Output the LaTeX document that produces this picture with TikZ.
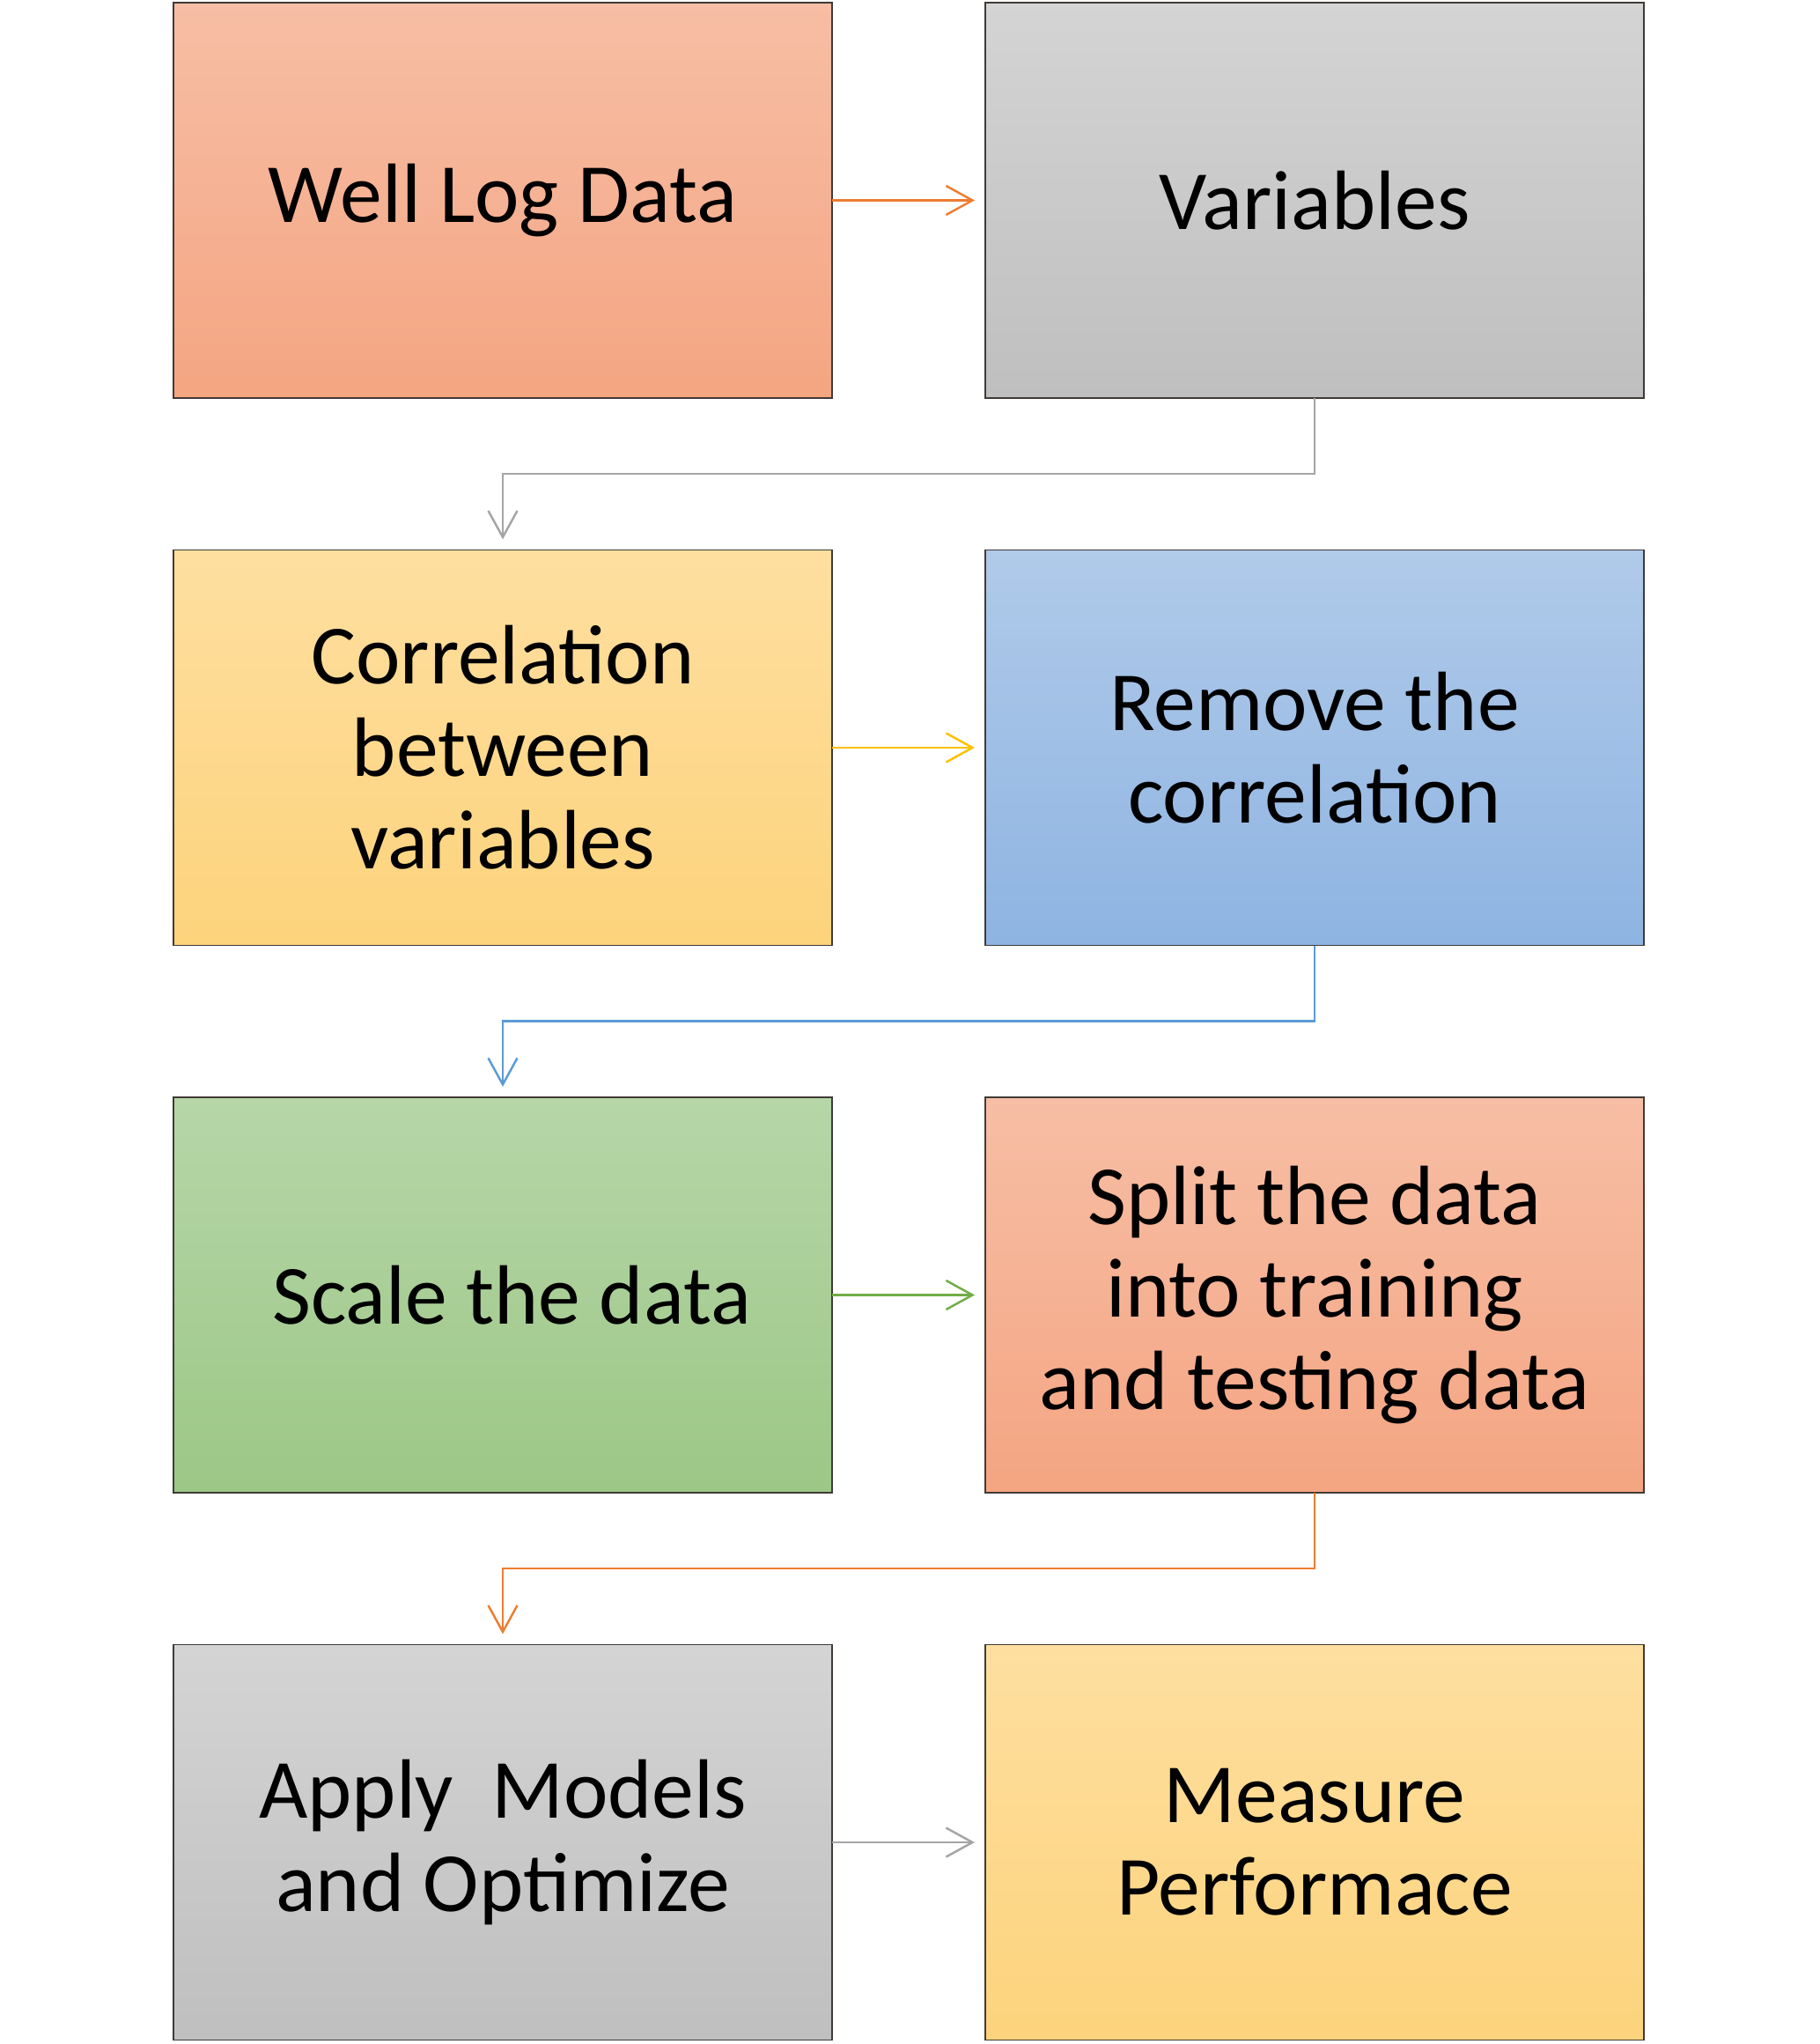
\documentclass[tikz,border=0pt]{standalone}
\usepackage{fontspec}
\setmainfont{Carlito}
\usepackage{xcolor}
\usepackage{tikz}
\usetikzlibrary{arrows.meta, positioning, calc, shadings}

\definecolor{orangetop}{HTML}{F7BEA5}
\definecolor{orangebot}{HTML}{F4A582}
\definecolor{graytop}{HTML}{D4D4D4}
\definecolor{graybot}{HTML}{BFBFBF}
\definecolor{yellowtop}{HTML}{FEDFA0}
\definecolor{yellowbot}{HTML}{FDD37C}
\definecolor{bluetop}{HTML}{B0CAE9}
\definecolor{bluebot}{HTML}{8EB4E2}
\definecolor{greentop}{HTML}{B6D6A8}
\definecolor{greenbot}{HTML}{9CC786}
\definecolor{orangeline}{HTML}{ED7D31}
\definecolor{grayline}{HTML}{A5A5A5}
\definecolor{yellowline}{HTML}{FFC000}
\definecolor{blueline}{HTML}{5B9BD5}
\definecolor{greenline}{HTML}{70AD47}
\definecolor{boxedge}{HTML}{3F3A36}

\tikzset{
    box/.style={draw=boxedge, line width=0.5pt, minimum width=7.48cm, minimum height=4.49cm,
        inner sep=0pt, outer sep=0pt, align=center, font=\fontsize{27.2}{29.9}\selectfont},
    orangebox/.style={box, top color=orangetop, bottom color=orangebot},
    graybox/.style={box, top color=graytop, bottom color=graybot},
    yellowbox/.style={box, top color=yellowtop, bottom color=yellowbot},
    bluebox/.style={box, top color=bluetop, bottom color=bluebot},
    greenbox/.style={box, top color=greentop, bottom color=greenbot},
    flow/.style={line width=0.7pt, -{Straight Barb[length=0.3cm, width=0.33cm, line width=0.7pt]},
        shorten >=0.12cm}
}

\begin{document}
\begin{tikzpicture}
    \useasboundingbox (0, 0) rectangle (20.66, -23.21);

    % boxes
    \node[orangebox] (welllog) at (5.71, -2.275) {Well Log Data};
    \node[graybox, right=1.74cm of welllog] (variables) {Variables};
    \node[yellowbox, below=1.725cm of welllog] (correlation) {Correlation\\between\\variables};
    \node[bluebox, right=1.74cm of correlation] (removecorr) {Remove the\\correlation};
    \node[greenbox, below=1.725cm of correlation] (scaledata) {\hspace*{0.2cm}Scale the data};
    \node[orangebox, right=1.74cm of scaledata] (splitdata) {Split the data\\into training\\and testing data};
    \node[graybox, below=1.725cm of scaledata] (applymodels) {Apply~~Models\\and Optimize};
    \node[yellowbox, right=1.74cm of applymodels] (measure) {Measure\\Performace};

    % connectors
    \draw[flow, orangeline] (welllog) -- (variables);
    \draw[flow, grayline] (variables.south) -- ++(0, -0.86) -| (correlation.north);
    \draw[flow, yellowline] (correlation) -- (removecorr);
    \draw[flow, blueline] (removecorr.south) -- ++(0, -0.86) -| (scaledata.north);
    \draw[flow, greenline] (scaledata) -- (splitdata);
    \draw[flow, orangeline] (splitdata.south) -- ++(0, -0.86) -| (applymodels.north);
    \draw[flow, grayline] (applymodels) -- (measure);
\end{tikzpicture}
\end{document}
